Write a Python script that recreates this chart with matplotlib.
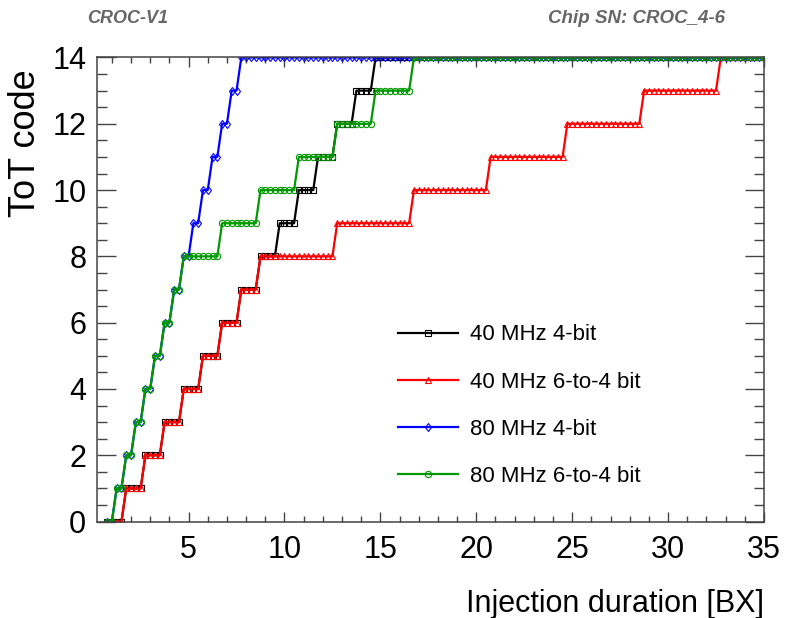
import numpy as np
import matplotlib
matplotlib.use('Agg')
import matplotlib.pyplot as plt
from matplotlib.ticker import MultipleLocator

plt.rcParams['font.family'] = ['Liberation Sans', 'DejaVu Sans']

# Injection durations scanned (BX), one point every quarter BX
bx_first = 0.75
bx_last = 35.0
bx_step = 0.25

# Injection duration (BX) at which ToT codes 1..14 are first reached
thr_40_4bit = [1.75, 2.75, 3.75, 4.75, 5.75, 6.75, 7.75,
               8.75, 9.75, 10.75, 11.75, 12.75, 13.75, 14.75]
thr_40_6to4 = [1.75, 2.75, 3.75, 4.75, 5.75, 6.75, 7.75,
               8.75, 12.75, 16.75, 20.75, 24.75, 28.75, 32.75]
thr_80_4bit = [1.25, 1.75, 2.25, 2.75, 3.25, 3.75, 4.25,
               4.75, 5.25, 5.75, 6.25, 6.75, 7.25, 7.75]
thr_80_6to4 = [1.25, 1.75, 2.25, 2.75, 3.25, 3.75, 4.25,
               4.75, 6.75, 8.75, 10.75, 12.75, 14.75, 16.75]

labels = ['40 MHz 4-bit', '40 MHz 6-to-4 bit', '80 MHz 4-bit', '80 MHz 6-to-4 bit']
colors = ['#000000', '#ff0000', '#0000ff', '#009900']
markers = ['s', '^', 'd', 'o']
msizes = [4.5, 5.0, 4.5, 4.5]

inj = np.arange(bx_first, bx_last + 1e-9, bx_step)

fig = plt.figure(figsize=(7.88, 6.18), dpi=100)
ax = fig.add_axes([0.1237, 0.156, 0.8458, 0.751])

for thr, lab, col, mk, ms in zip([thr_40_4bit, thr_40_6to4, thr_80_4bit, thr_80_6to4],
                                 labels, colors, markers, msizes):
    tot = np.searchsorted(np.asarray(thr), inj, side='right')
    ax.plot(inj, tot, color=col, lw=1.6, marker=mk, ms=ms, mfc='none',
            mec=col, mew=0.8, label=lab)

ax.set_xlim(0.25, 35)
ax.set_ylim(0, 14)
ax.xaxis.set_major_locator(MultipleLocator(5))
ax.xaxis.set_minor_locator(MultipleLocator(1))
ax.yaxis.set_major_locator(MultipleLocator(2))
ax.yaxis.set_minor_locator(MultipleLocator(0.5))

spine_col = '#444444'
for s in ax.spines.values():
    s.set_color(spine_col)
    s.set_linewidth(1.1)
ax.tick_params(which='both', direction='in', top=True, right=True,
               colors=spine_col, width=1.0, labelcolor='black')
ax.tick_params(axis='x', which='major', length=7.5, pad=10, labelsize=22)
ax.tick_params(axis='x', which='minor', length=4.5)
ax.tick_params(axis='y', which='major', length=13.5, pad=8, labelsize=22)
ax.tick_params(axis='y', which='minor', length=7)

ax.set_xlabel('Injection duration [BX]', fontsize=22, loc='right', labelpad=17)
ax.set_ylabel('ToT code', fontsize=26, loc='top')
ax.yaxis.set_label_coords(-0.082, 0.975)

ax.legend(loc='upper left', bbox_to_anchor=(0.451, 0.425), frameon=False,
          fontsize=16, handlelength=2.7, handletextpad=0.55,
          labelspacing=1.18, borderpad=0, borderaxespad=0, numpoints=1)

fig.text(0.11, 0.97, 'CROC-V1', fontsize=13, fontweight='bold', style='italic',
         color='#666666', ha='left', va='center')
fig.text(0.92, 0.97, 'Chip SN: CROC_4-6', fontsize=13.5, fontweight='bold',
         style='italic', color='#666666', ha='right', va='center')

fig.savefig('out.png', dpi=100)
